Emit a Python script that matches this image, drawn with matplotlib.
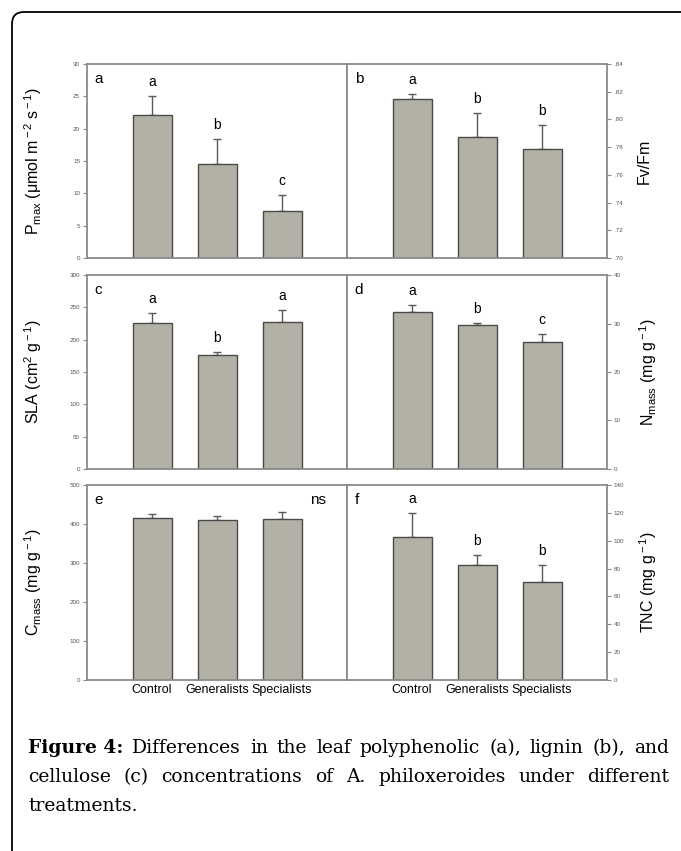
import matplotlib
matplotlib.use("Agg")
import matplotlib.pyplot as plt
import matplotlib.patches as mpatches
from matplotlib.ticker import FuncFormatter, MultipleLocator
import numpy as np

plt.rcParams['font.family'] = ['Liberation Sans', 'DejaVu Sans']
plt.rcParams['mathtext.fontset'] = 'custom'
plt.rcParams['mathtext.rm'] = 'Liberation Sans'
plt.rcParams['mathtext.it'] = 'Liberation Sans'

# data
groups = ['Control', 'Generalists', 'Specialists']

pmax = [22.1, 14.5, 7.3]
pmax_se = [3.0, 3.9, 2.4]
pmax_sig = ['a', 'b', 'c']

fvfm = [0.8148, 0.7876, 0.7788]
fvfm_se = [0.0033, 0.0171, 0.0170]
fvfm_sig = ['a', 'b', 'b']

sla = [226, 175.6, 227]
sla_se = [15, 5, 19.5]
sla_sig = ['a', 'b', 'a']

nmass = [32.3, 29.6, 26.1]
nmass_se = [1.5, 0.5, 1.8]
nmass_sig = ['a', 'b', 'c']

cmass = [415, 410, 414]
cmass_se = [10, 11, 16]

tnc = [102.9, 82.8, 70.6]
tnc_se = [17.2, 6.9, 11.7]
tnc_sig = ['a', 'b', 'b']

W, H = 681, 851
fig = plt.figure(figsize=(W / 100, H / 100), dpi=100)

# background axes in pixel coords for frame and caption
bg = fig.add_axes([0, 0, 1, 1], zorder=-5)
bg.set_xlim(0, W)
bg.set_ylim(H, 0)
bg.axis('off')
frame = mpatches.FancyBboxPatch((12, 12), 720, 900,
                                boxstyle="round,pad=0,rounding_size=12",
                                fc='white', ec='black', lw=1.3)
bg.add_patch(frame)

bar_c = '#b3b1a5'
edge_c = '#4a4a4a'
spine_c = '#8a8a8a'
x = np.arange(3)


def px_axes(l, t, r, b):
    return fig.add_axes([l / W, 1 - b / H, (r - l) / W, (b - t) / H])


def panel(ax, vals, errs, ylim, step, letter, sig, side, ylabel, fmt=None):
    ax.bar(x, vals, width=0.6, color=bar_c, edgecolor=edge_c, linewidth=1.0, zorder=2)
    ax.errorbar(x, vals, yerr=[[0, 0, 0], errs], fmt='none', ecolor='#5a5a5a',
                elinewidth=1.0, capsize=3, capthick=1.0, zorder=1)
    ax.set_xlim(-1, 3)
    ax.set_ylim(*ylim)
    ax.yaxis.set_major_locator(MultipleLocator(step))
    if fmt:
        ax.yaxis.set_major_formatter(FuncFormatter(fmt))
    for s in ax.spines.values():
        s.set_color(spine_c)
        s.set_linewidth(1.3)
    ax.tick_params(axis='x', length=0, labelbottom=False)
    if side == 'right':
        ax.yaxis.tick_right()
        ax.yaxis.set_label_position('right')
    ax.tick_params(axis='y', length=3, width=0.8, color=spine_c,
                   labelsize=4.5, labelcolor='#555555', pad=2)
    ax.set_ylabel(ylabel, fontsize=11.5)
    if side == 'right':
        ax.yaxis.set_label_coords(1.115, 0.5)
    else:
        ax.yaxis.set_label_coords(-0.165, 0.5)
    ax.text(0.03, 0.925, letter, transform=ax.transAxes, fontsize=11, va='center')
    if sig:
        for xi, v, e, s in zip(x, vals, errs, sig):
            ax.annotate(s, (xi, v + e), xytext=(0, 5), textcoords='offset points',
                        ha='center', va='bottom', fontsize=10)


fv_fmt = lambda v, p: f"{v:.2f}".lstrip('0')

ax_a = px_axes(87, 64, 347, 258)
panel(ax_a, pmax, pmax_se, (0, 30), 5, 'a', pmax_sig, 'left',
      r'P$_{\rm max}$ ($\mu$mol m$^{\rm -2}$ s$^{\rm -1}$)')
ax_b = px_axes(347, 64, 607, 258)
panel(ax_b, fvfm, fvfm_se, (0.70, 0.84), 0.02, 'b', fvfm_sig, 'right', 'Fv/Fm', fv_fmt)
ax_c = px_axes(87, 275, 347, 469)
panel(ax_c, sla, sla_se, (0, 300), 50, 'c', sla_sig, 'left',
      r'SLA (cm$^{\rm 2}$ g$^{\rm -1}$)')
ax_d = px_axes(347, 275, 607, 469)
panel(ax_d, nmass, nmass_se, (0, 40), 10, 'd', nmass_sig, 'right',
      r'N$_{\rm mass}$ (mg g$^{\rm -1}$)')
ax_e = px_axes(87, 485, 347, 680)
panel(ax_e, cmass, cmass_se, (0, 500), 100, 'e', None, 'left',
      r'C$_{\rm mass}$ (mg g$^{\rm -1}$)')
ax_e.text(0.89, 0.925, 'ns', transform=ax_e.transAxes, fontsize=11, ha='center', va='center')
ax_f = px_axes(347, 485, 607, 680)
panel(ax_f, tnc, tnc_se, (0, 140), 20, 'f', tnc_sig, 'right',
      r'TNC (mg g$^{\rm -1}$)')

for ax in (ax_e, ax_f):
    ax.set_xticks(x)
    ax.set_xticklabels(groups, fontsize=9)
    ax.tick_params(axis='x', labelbottom=True, pad=3)

# caption, justified like the journal page
lines = [
    ['Figure 4:', 'Differences', 'in', 'the', 'leaf', 'polyphenolic', '(a),', 'lignin', '(b),', 'and'],
    ['cellulose', '(c)', 'concentrations', 'of', 'A.', 'philoxeroides', 'under', 'different'],
    ['treatments.'],
]
baselines = [753, 782, 811]
x0, x1 = 28, 669
renderer = fig.canvas.get_renderer()
for li, (words, yb) in enumerate(zip(lines, baselines)):
    txts = []
    for w in words:
        bold = w.startswith('Figure')
        t = bg.text(0, yb, w, fontsize=13.5, family='DejaVu Serif',
                    fontweight='bold' if bold else 'normal', va='baseline', ha='left')
        txts.append(t)
    widths = [t.get_window_extent(renderer).width for t in txts]
    if li < len(lines) - 1 and len(words) > 1:
        gap = (x1 - x0 - sum(widths)) / (len(words) - 1)
    else:
        gap = 5
    cur = x0
    for t, wd in zip(txts, widths):
        t.set_x(cur)
        cur += wd + gap

fig.savefig('out.png', dpi=100)
